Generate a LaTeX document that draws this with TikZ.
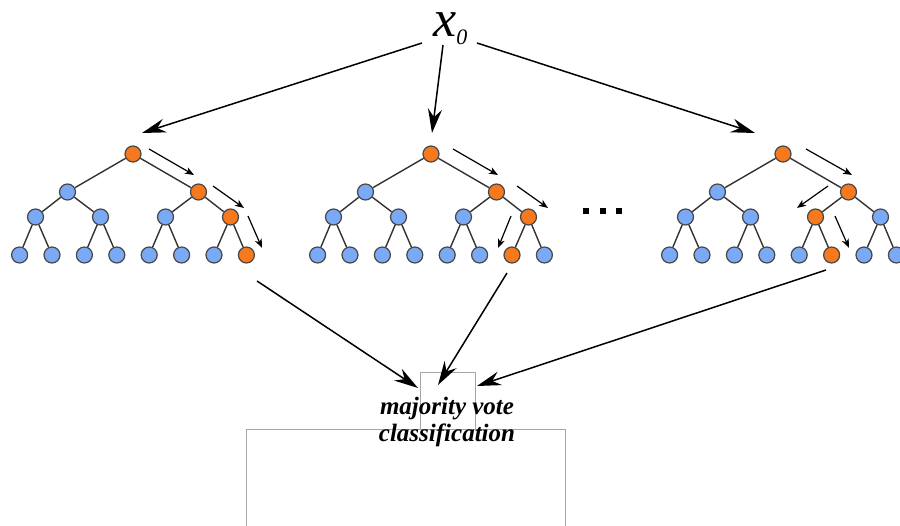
\documentclass[tikz,border=0pt]{standalone}
\usepackage{fontspec}
\setmainfont{Liberation Serif}
\usetikzlibrary{arrows.meta}
\definecolor{blu}{HTML}{7AAAF5}
\definecolor{orng}{HTML}{F7791E}
\definecolor{edgec}{HTML}{333333}
\tikzset{
  nd/.style={circle, minimum size=16pt, inner sep=0pt, draw=edgec!90, line width=1.2pt},
  tedge/.style={draw=edgec, line width=1.4pt},
  bigarrow/.style={-{Stealth[length=24pt,width=14pt,inset=8pt]}, line width=1.5pt},
  smallarrow/.style={-{Stealth[length=9pt,width=7pt,inset=2.5pt]}, line width=1.2pt},
  frame/.style={draw=black!35, line width=0.8pt},
  lbl/.style={font=\fontsize{25}{27}\selectfont\bfseries\itshape, inner sep=0pt, anchor=base},
  dotsq/.style={fill=black},
}
\newcommand\mytree[5]{%
  \node[nd, fill=orng] (#1-0-1) at (#2,154) {};
  \foreach \k in {1,2}{%
    \ifnum\k=#3 \def\fc{orng}\else\def\fc{blu}\fi
    \node[nd, fill=\fc] (#1-1-\k) at ({#2+(\k-1.5)*131},192) {};
    \draw[tedge] (#1-0-1) -- (#1-1-\k);
  }
  \foreach \k in {1,...,4}{%
    \ifnum\k=#4 \def\fc{orng}\else\def\fc{blu}\fi
    \pgfmathtruncatemacro\p{(\k+1)/2}
    \node[nd, fill=\fc] (#1-2-\k) at ({#2+(\k-2.5)*65},217) {};
    \draw[tedge] (#1-1-\p) -- (#1-2-\k);
  }
  \foreach \k in {1,...,8}{%
    \ifnum\k=#5 \def\fc{orng}\else\def\fc{blu}\fi
    \pgfmathtruncatemacro\p{(\k+1)/2}
    \node[nd, fill=\fc] (#1-3-\k) at ({#2+(\k-4.5)*32.4},255) {};
    \draw[tedge] (#1-2-\p) -- (#1-3-\k);
  }
}
\begin{document}
\begin{tikzpicture}[x=1pt,y=-1pt]
\clip (0,0) rectangle (900,526);
\fill[white] (0,0) rectangle (900,526);

% frames
\draw[frame] (420,372) rectangle (475,429);
\draw[frame] (246,429) rectangle (565,540);

% trees
\mytree{ta}{133}{2}{4}{8}
\mytree{tb}{431}{2}{4}{7}
\mytree{tc}{783}{2}{3}{6}

% dots
\fill[dotsq] (583,208) rectangle (589,214);
\fill[dotsq] (600,208) rectangle (606,214);
\fill[dotsq] (616,208) rectangle (622,214);

% x0
\node[anchor=base west, inner sep=0pt, text height=25pt, text depth=9pt] (x0) at (433,37)
  {\fontsize{52}{52}\selectfont\itshape x\raisebox{-8pt}{\fontsize{22}{22}\selectfont 0}};

% label
\node[lbl] (mv1) at (447,415) {majority vote};
\node[lbl] (mv2) at (447,442) {classification};

% coordinates for arrows
\coordinate (s1) at (422,43);  \coordinate (e1) at (142,133);
\coordinate (s2) at (443,45);  \coordinate (e2) at (432,133);
\coordinate (s3) at (477,43);  \coordinate (e3) at (755,133);
\draw[bigarrow] (s1) -- (e1);
\draw[bigarrow] (s2) -- (e2);
\draw[bigarrow] (s3) -- (e3);

\coordinate (b1) at (257,281); \coordinate (f1) at (418,388);
\coordinate (b2) at (507,273); \coordinate (f2) at (438,385);
\coordinate (b3) at (826,270); \coordinate (f3) at (477,386);
\draw[bigarrow] (b1) -- (f1);
\draw[bigarrow] (b2) -- (f2);
\draw[bigarrow] (b3) -- (f3);

% small path arrows
\coordinate (p1) at (149,149); \coordinate (q1) at (194,175);
\coordinate (p2) at (213,186); \coordinate (q2) at (244,208);
\coordinate (p3) at (248,216); \coordinate (q3) at (262,248);
\coordinate (p4) at (453,149); \coordinate (q4) at (498,175);
\coordinate (p5) at (517,186); \coordinate (q5) at (548,208);
\coordinate (p6) at (511,216); \coordinate (q6) at (498,248);
\coordinate (p7) at (806,149); \coordinate (q7) at (852,175);
\coordinate (p8) at (828,186); \coordinate (q8) at (797,208);
\coordinate (p9) at (835,216); \coordinate (q9) at (849,248);
\foreach \i in {1,...,9}{\draw[smallarrow] (p\i) -- (q\i);}
\end{tikzpicture}
\end{document}
